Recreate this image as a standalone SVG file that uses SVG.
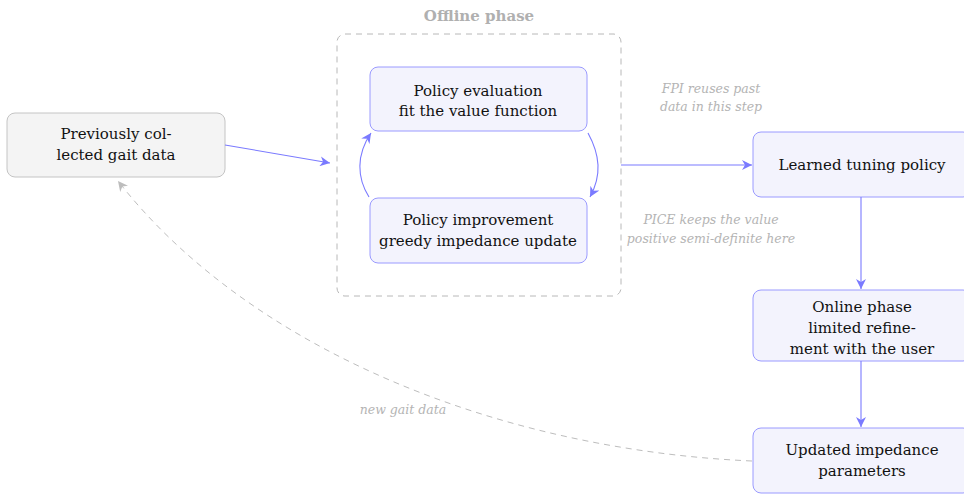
<svg xmlns="http://www.w3.org/2000/svg" width="964" height="494" viewBox="0 0 964 494">
<style>
text{font-family:"DejaVu Serif",serif;font-size:15px;fill:#111;text-anchor:middle}
.node{fill:#f3f3fd;stroke:#9a9aff;stroke-width:1}
.gray{fill:#f4f4f4;stroke:#c4c4c4;stroke-width:1}
.note{font-size:12.5px;font-style:italic;fill:#b4b4b4}
.edge{fill:none;stroke:#7a7aff;stroke-width:1.1}
.fb{fill:none;stroke:#bdbdbd;stroke-width:1;stroke-dasharray:6 5}
</style>
<defs>
<marker id="ah" markerWidth="12" markerHeight="10" refX="10" refY="5" orient="auto" markerUnits="userSpaceOnUse">
<path d="M0,0 L10,5 L0,10 L3,5 Z" fill="#7a7aff"/>
</marker>
<marker id="ahg" markerWidth="12" markerHeight="10" refX="10" refY="5" orient="auto" markerUnits="userSpaceOnUse">
<path d="M0,0 L10,5 L0,10 L3,5 Z" fill="#bdbdbd"/>
</marker>
</defs>
<g id="offline">
<rect x="337" y="34" width="284" height="262" rx="8" fill="none" stroke="#b8b8b8" stroke-dasharray="6 5"/>
<text x="479" y="21" font-weight="bold" style="fill:#b0b0b0">Offline phase</text>
</g>
<g id="prev">
<rect class="gray" x="7" y="113" width="218" height="64" rx="8"/>
<text x="116" y="139">Previously col-</text>
<text x="116" y="160">lected gait data</text>
</g>
<g id="eval">
<rect class="node" x="370" y="67" width="217" height="64" rx="8"/>
<text x="478" y="96">Policy evaluation</text>
<text x="478" y="116">fit the value function</text>
</g>
<g id="improve">
<rect class="node" x="370" y="198" width="217" height="65" rx="8"/>
<text x="478" y="225">Policy improvement</text>
<text x="478" y="246">greedy impedance update</text>
</g>
<g id="learned">
<rect class="node" x="753" y="132" width="218" height="65" rx="8"/>
<text x="862" y="170">Learned tuning policy</text>
</g>
<g id="online">
<rect class="node" x="753" y="290" width="218" height="71" rx="8"/>
<text x="862" y="312">Online phase</text>
<text x="862" y="333">limited refine-</text>
<text x="862" y="354">ment with the user</text>
</g>
<g id="updated">
<rect class="node" x="753" y="428" width="218" height="65" rx="8"/>
<text x="862" y="455">Updated impedance</text>
<text x="862" y="476">parameters</text>
</g>
<g id="notes">
<text class="note" x="711" y="93">FPI reuses past</text>
<text class="note" x="711" y="111">data in this step</text>
<text class="note" x="711" y="224">PICE keeps the value</text>
<text class="note" x="711" y="243">positive semi-definite here</text>
<text class="note" x="403" y="414">new gait data</text>
</g>
<g id="connectors">
<path class="edge" d="M225,145 L330,163" marker-end="url(#ah)"/>
<path class="edge" d="M621,165 L752,165" marker-end="url(#ah)"/>
<path class="edge" d="M861,197 L861,289" marker-end="url(#ah)"/>
<path class="edge" d="M861,361 L861,427" marker-end="url(#ah)"/>
<path class="edge" d="M588,133 C600,155 602,175 590,197" marker-end="url(#ah)"/>
<path class="edge" d="M369,197 C357,178 356,155 371,133" marker-end="url(#ah)"/>
<path class="fb" d="M752,461 C500,450 250,350 118,181" marker-end="url(#ahg)"/>
</g>
</svg>
